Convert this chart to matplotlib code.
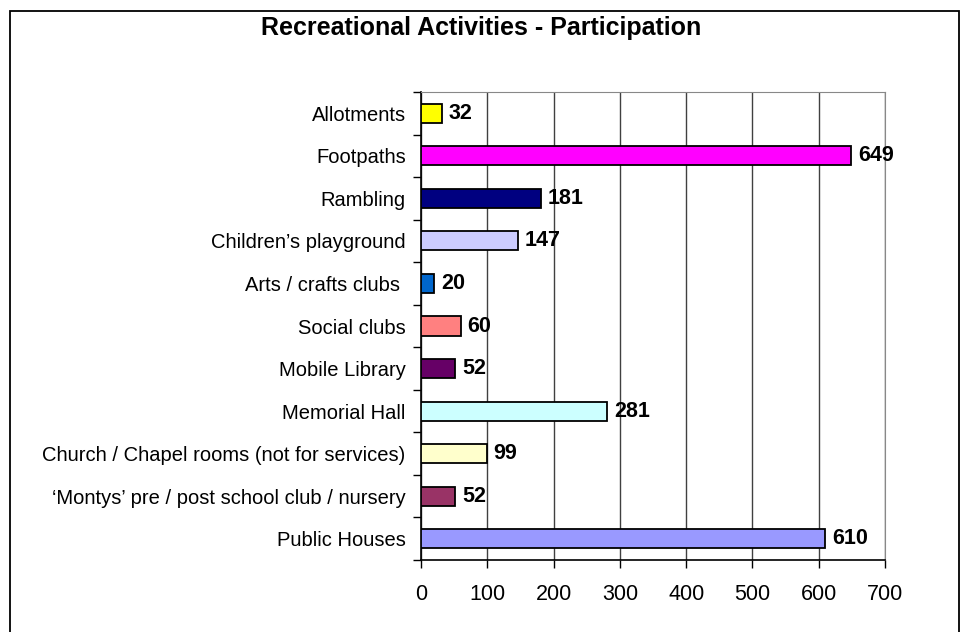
import numpy as np
import matplotlib.pyplot as plt
from matplotlib.patches import Rectangle

plt.rcParams['font.family'] = ['Liberation Sans', 'DejaVu Sans']

# data, top to bottom as in the chart
activities = ['Allotments', 'Footpaths', 'Rambling', 'Children\u2019s playground',
              'Arts / crafts clubs ', 'Social clubs', 'Mobile Library', 'Memorial Hall',
              'Church / Chapel rooms (not for services)',
              '\u2018Montys\u2019 pre / post school club / nursery', 'Public Houses']
counts = [32, 649, 181, 147, 20, 60, 52, 281, 99, 52, 610]
colours = ['#FFFF00', '#FF00FF', '#000080', '#CCCCFF', '#0066CC', '#FF8080',
           '#660066', '#CCFFFF', '#FFFFCC', '#993366', '#9999FF']
xticks = [0, 100, 200, 300, 400, 500, 600, 700]

fig = plt.figure(figsize=(9.63, 6.32), dpi=100)
fig.patches.append(Rectangle((10/963, -0.05), 949/963, 1.05 - 11/632, transform=fig.transFigure,
                             fill=False, edgecolor='black', linewidth=1.3))
ax = fig.add_axes([421/963, 1-560/632, 464/963, 468/632])

y = np.arange(len(activities))
ax.barh(y, counts, height=0.45, color=colours, edgecolor='black', linewidth=1.3, zorder=3)
for yi, c in zip(y, counts):
    ax.text(c + 10, yi, str(c), va='center', ha='left', fontsize=15.5, fontweight='bold', zorder=4)

ax.set_ylim(len(activities) - 0.5, -0.5)
ax.set_xlim(0, 700)
ax.set_xticks(xticks)
ax.set_yticks(y)
ax.set_yticklabels(activities)
ax.set_yticks(np.arange(-0.5, len(activities)), minor=True)
ax.tick_params(axis='y', which='major', length=0, pad=11, labelsize=14.5)
ax.tick_params(axis='y', which='minor', length=6, width=1, direction='out')
ax.tick_params(axis='x', length=6, width=1, direction='out', pad=11, labelsize=15.5)

ax.grid(axis='x', color='#404040', linewidth=1, zorder=0)
for s in ['top', 'right']:
    ax.spines[s].set_color('#888888')
for s in ['left', 'bottom']:
    ax.spines[s].set_color('black')
    ax.spines[s].set_linewidth(1.2)

fig.text(0.5, 1-28/632, 'Recreational Activities - Participation', ha='center', va='center',
         fontsize=18, fontweight='bold')

fig.savefig('out.png', dpi=100, facecolor='white')
